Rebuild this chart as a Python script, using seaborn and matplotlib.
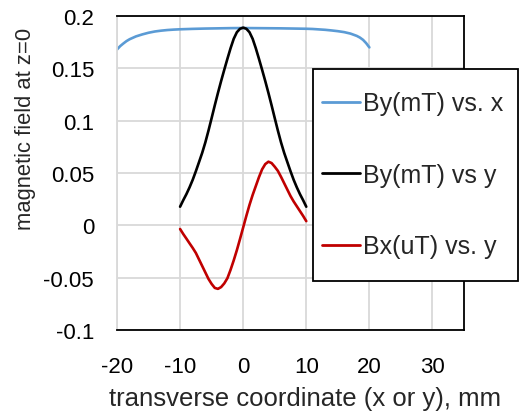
import numpy as np
import pandas as pd
import matplotlib
matplotlib.use("Agg")
import matplotlib.pyplot as plt
from matplotlib.patches import Rectangle
import seaborn as sns

# ---- data ----
x_blue = [-20, -19.5, -19, -18.5, -18, -17, -16, -15, -14, -13, -12, -11, -10, -8, -6, -4, -2, 0,
          2, 4, 6, 8, 10, 11, 12, 13, 14, 15, 16, 17, 18, 18.5, 19, 19.5, 20]
by_vs_x = [0.1680, 0.1712, 0.1737, 0.1760, 0.1778, 0.1805, 0.1824, 0.1840, 0.1852, 0.1860, 0.1866,
           0.1870, 0.1873, 0.1877, 0.1880, 0.1882, 0.1884, 0.1885, 0.1884, 0.1883, 0.1882, 0.1880,
           0.1878, 0.1876, 0.1872, 0.1868, 0.1862, 0.1855, 0.1846, 0.1832, 0.1810, 0.1794, 0.1772,
           0.1740, 0.1700]

y_pos = [-10, -9.5, -9, -8.5, -8, -7.5, -7, -6.5, -6, -5.5, -5, -4.5, -4, -3.5, -3, -2.5, -2,
         -1.5, -1, -0.5, 0, 0.5, 1, 1.5, 2, 2.5, 3, 3.5, 4, 4.5, 5, 5.5, 6, 6.5, 7, 7.5, 8,
         8.5, 9, 9.5, 10]
by_vs_y = [0.0178, 0.0240, 0.0298, 0.0363, 0.0435, 0.0517, 0.0604, 0.0692, 0.0792, 0.0905,
           0.1025, 0.1147, 0.1265, 0.1378, 0.1486, 0.1591, 0.1692, 0.1782, 0.1845, 0.1878,
           0.1889, 0.1878, 0.1845, 0.1782, 0.1692, 0.1591, 0.1486, 0.1378, 0.1265, 0.1147,
           0.1025, 0.0905, 0.0792, 0.0692, 0.0604, 0.0517, 0.0435, 0.0363, 0.0298, 0.0240, 0.0178]
bx_vs_y = [-0.0035, -0.0083, -0.0127, -0.0172, -0.0216, -0.0264, -0.0326, -0.0388, -0.0450,
           -0.0512, -0.0560, -0.0598, -0.0607, -0.0590, -0.0555, -0.0505, -0.0425, -0.0335,
           -0.0237, -0.0130, -0.0020, 0.0090, 0.0195, 0.0290, 0.0375, 0.0460, 0.0535, 0.0585,
           0.0608, 0.0595, 0.0560, 0.0520, 0.0463, 0.0402, 0.0341, 0.0280, 0.0228, 0.0182,
           0.0136, 0.0090, 0.0040]

labels = ["By(mT) vs. x", "By(mT) vs y", "Bx(uT) vs. y"]
colors = ["#5B9BD5", "#000000", "#C00000"]
x_ticks = [-20, -10, 0, 10, 20, 30]
y_ticks = [-0.1, -0.05, 0, 0.05, 0.1, 0.15, 0.2]
y_ticklabels = ["-0.1", "-0.05", "0", "0.05", "0.1", "0.15", "0.2"]

df = pd.concat([
    pd.DataFrame({"pos": x_blue, "val": by_vs_x, "series": labels[0]}),
    pd.DataFrame({"pos": y_pos, "val": by_vs_y, "series": labels[1]}),
    pd.DataFrame({"pos": y_pos, "val": bx_vs_y, "series": labels[2]}),
], ignore_index=True)

sns.set_theme(style="white")
plt.rcParams["font.family"] = ["Liberation Sans", "DejaVu Sans"]

W, H = 519, 414
fig = plt.figure(figsize=(W / 100, H / 100), dpi=100)
ax = fig.add_axes([117 / W, 1 - 331 / H, (464 - 117) / W, (331 - 17) / H])

sns.lineplot(data=df, x="pos", y="val", hue="series", hue_order=labels,
             palette=dict(zip(labels, colors)), estimator=None, sort=False,
             linewidth=1.9, ax=ax)
handles, lbls = ax.get_legend_handles_labels()
if ax.legend_ is not None:
    ax.legend_.remove()

ax.set_xlim(-20, 35)
ax.set_ylim(-0.1, 0.2)
ax.set_xticks(x_ticks)
ax.set_xticklabels([str(t) for t in x_ticks])
ax.set_yticks(y_ticks)
ax.set_yticklabels(y_ticklabels)
ax.grid(True, color="#D9D9D9", linewidth=1.3)
ax.set_axisbelow(True)
ax.tick_params(axis="both", length=0, labelsize=16, colors="#000000")
ax.tick_params(axis="x", pad=19)
ax.tick_params(axis="y", pad=16.5)

for s in ["top", "right", "bottom"]:
    ax.spines[s].set_color("#000000")
    ax.spines[s].set_linewidth(1.3)
ax.spines["left"].set_color("#D9D9D9")
ax.spines["left"].set_linewidth(1.3)

ax.set_xlabel("transverse coordinate (x or y), mm", fontsize=18.5)
ax.xaxis.set_label_coords((305.5 - 117) / 347, (331 - 399) / 314)
ax.xaxis.label.set_verticalalignment("center")
ax.set_ylabel("magnetic field at z=0", fontsize=15.8)
ax.yaxis.set_label_coords((25 - 117) / 347, (331 - 129) / 314)
ax.yaxis.label.set_verticalalignment("center")
ax.yaxis.label.set_horizontalalignment("center")

# legend box
fig.patches.append(Rectangle((313 / W, 1 - 282 / H), (518 - 313) / W, (282 - 70) / H,
                             transform=fig.transFigure, facecolor="white",
                             edgecolor="black", linewidth=1.3, zorder=1))
leg = fig.legend(handles, lbls, loc="center left", bbox_to_anchor=(322 / W, 1 - 176 / H),
                 fontsize=18, frameon=False, labelspacing=1.9, handlelength=1.52,
                 handletextpad=0.12, borderpad=0, borderaxespad=0)
for h in leg.get_lines():
    h.set_linewidth(2.0)

fig.savefig("out.png", dpi=100)
